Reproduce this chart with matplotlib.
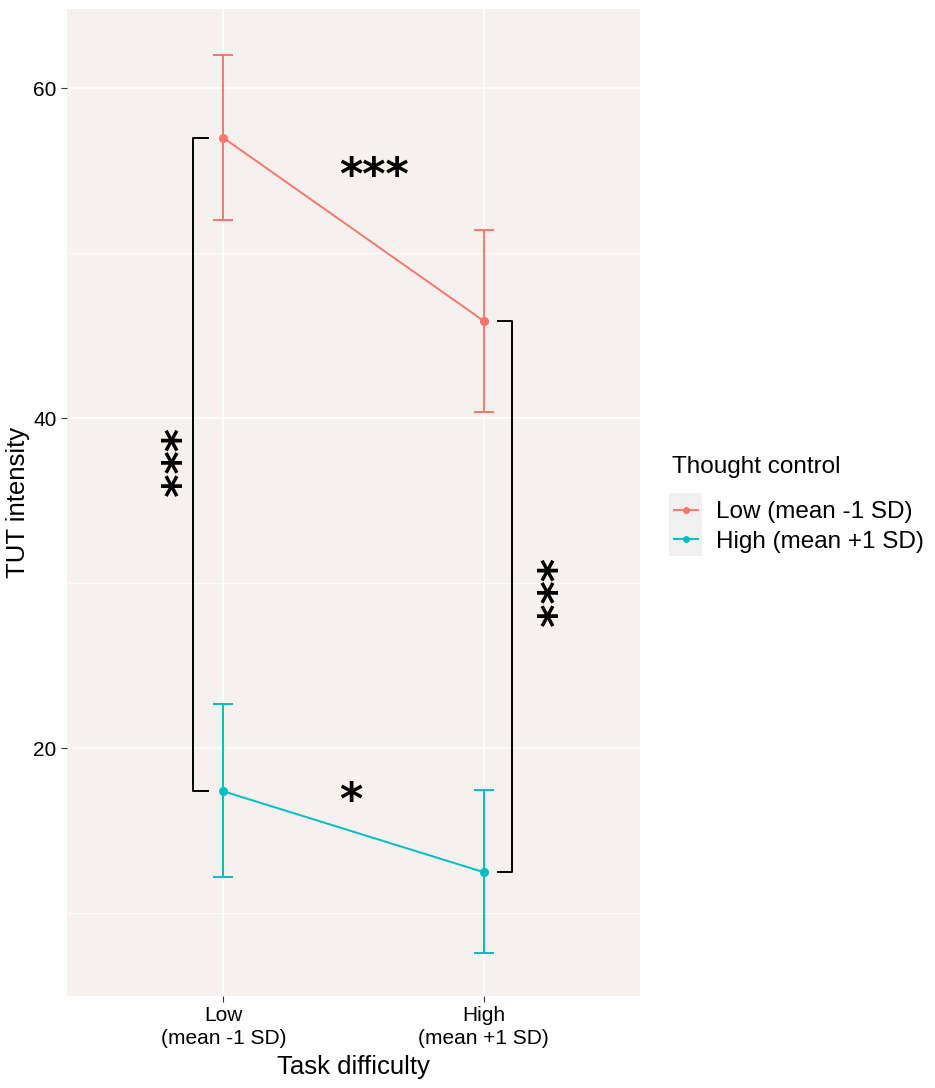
import numpy as np
import matplotlib
matplotlib.use('Agg')
import matplotlib.pyplot as plt
from matplotlib.lines import Line2D
from matplotlib.patches import Rectangle

plt.rcParams['font.family'] = ['Liberation Sans', 'DejaVu Sans']

# data
difficulty    = ['Low\n(mean -1 SD)', 'High\n(mean +1 SD)']
groups        = ['Low (mean -1 SD)', 'High (mean +1 SD)']
low_tc_mean   = [57.0, 45.9]
low_tc_lo     = [52.0, 40.4]
low_tc_hi     = [62.0, 51.4]
high_tc_mean  = [17.4, 12.5]
high_tc_lo    = [12.2, 7.6]
high_tc_hi    = [22.7, 17.5]
colors        = ['#F8766D', '#00BFC4']
y_ticks       = [20, 40, 60]
y_minor       = [10, 30, 50]

# significance annotations (x in category units, y in data units)
sig_labels    = ['***', '*', '***', '***']
sig_x         = [1.578, 1.49, 0.757, 2.198]
sig_y         = [54.67, 16.8, 37.33, 29.45]
sig_rot       = [0, 0, 270, 270]

fig = plt.figure(figsize=(9.35, 10.88), dpi=100)
ax = fig.add_axes([0.0717, 0.0846, 0.6128, 0.9071])
ax.set_facecolor('#F6F0EE')
for s in ax.spines.values():
  s.set_visible(False)

x = np.arange(1, len(difficulty) + 1)
means = [low_tc_mean, high_tc_mean]
los   = [low_tc_lo, high_tc_lo]
his   = [low_tc_hi, high_tc_hi]
for m, lo, hi, c in zip(means, los, his, colors):
  m, lo, hi = np.array(m), np.array(lo), np.array(hi)
  ax.errorbar(x, m, yerr=[m - lo, hi - m], color=c, lw=1.4, marker='o',
              ms=5.5, capsize=7, capthick=1.4, elinewidth=1.4, zorder=3)

# brackets
ax.plot([0.943, 0.882, 0.882, 0.943],
        [low_tc_mean[0], low_tc_mean[0], high_tc_mean[0], high_tc_mean[0]],
        color='black', lw=1.4, zorder=2)
ax.plot([2.053, 2.11, 2.11, 2.053],
        [low_tc_mean[1], low_tc_mean[1], high_tc_mean[1], high_tc_mean[1]],
        color='black', lw=1.4, zorder=2)

for lab, sx, sy, r in zip(sig_labels, sig_x, sig_y, sig_rot):
  ax.text(sx, sy, lab, rotation=r, ha='center', va='center',
          family='DejaVu Sans', fontsize=32, fontweight='bold', zorder=4)

ax.set_xlim(0.4, 2.6)
ax.set_ylim(5.0, 64.8)
ax.set_xticks(x)
ax.set_xticklabels(difficulty, fontsize=15, linespacing=1.25)
ax.set_yticks(y_ticks)
ax.set_yticks(y_minor, minor=True)
ax.tick_params(axis='both', which='major', length=4, color='#333333',
               labelsize=15, labelcolor='black')
ax.tick_params(axis='y', which='minor', length=0)
ax.grid(True, which='major', color='white', lw=1.2, zorder=0)
ax.grid(True, which='minor', axis='y', color='white', lw=0.6, zorder=0)
ax.set_axisbelow(True)

ax.set_xlabel('Task difficulty', fontsize=18.5, labelpad=5)
ax.set_ylabel('TUT intensity', fontsize=18.5, labelpad=2)

# legend: title as its own text so the gap to the keys matches ggplot
fig.text(672 / 935, 1 - 467 / 1088, 'Thought control', fontsize=17.5,
         ha='left', va='center')
handles = [Line2D([0], [0], color=c, lw=1.4, marker='o', ms=4) for c in colors]
leg = fig.legend(handles, groups, loc='center left',
                 bbox_to_anchor=(674 / 935, 1 - 527 / 1088), frameon=False,
                 fontsize=17.5, handlelength=1.0, handletextpad=0.74,
                 labelspacing=0.3, borderpad=0, borderaxespad=0)

# grey key background like ggplot
fig.canvas.draw()
r = fig.canvas.get_renderer()
ext = [h.get_window_extent(r) for h in leg.legend_handles]
x0 = min(e.x0 for e in ext) - 2
x1 = max(e.x1 for e in ext) + 1
y0 = min(e.y0 for e in ext) - 14
y1 = max(e.y1 for e in ext) + 14
fig.patches.append(Rectangle((x0 / 935, y0 / 1088), (x1 - x0) / 935,
                             (y1 - y0) / 1088, transform=fig.transFigure,
                             facecolor='#F0F0F0', edgecolor='none', zorder=-1))

plt.savefig('out.png', dpi=100)
